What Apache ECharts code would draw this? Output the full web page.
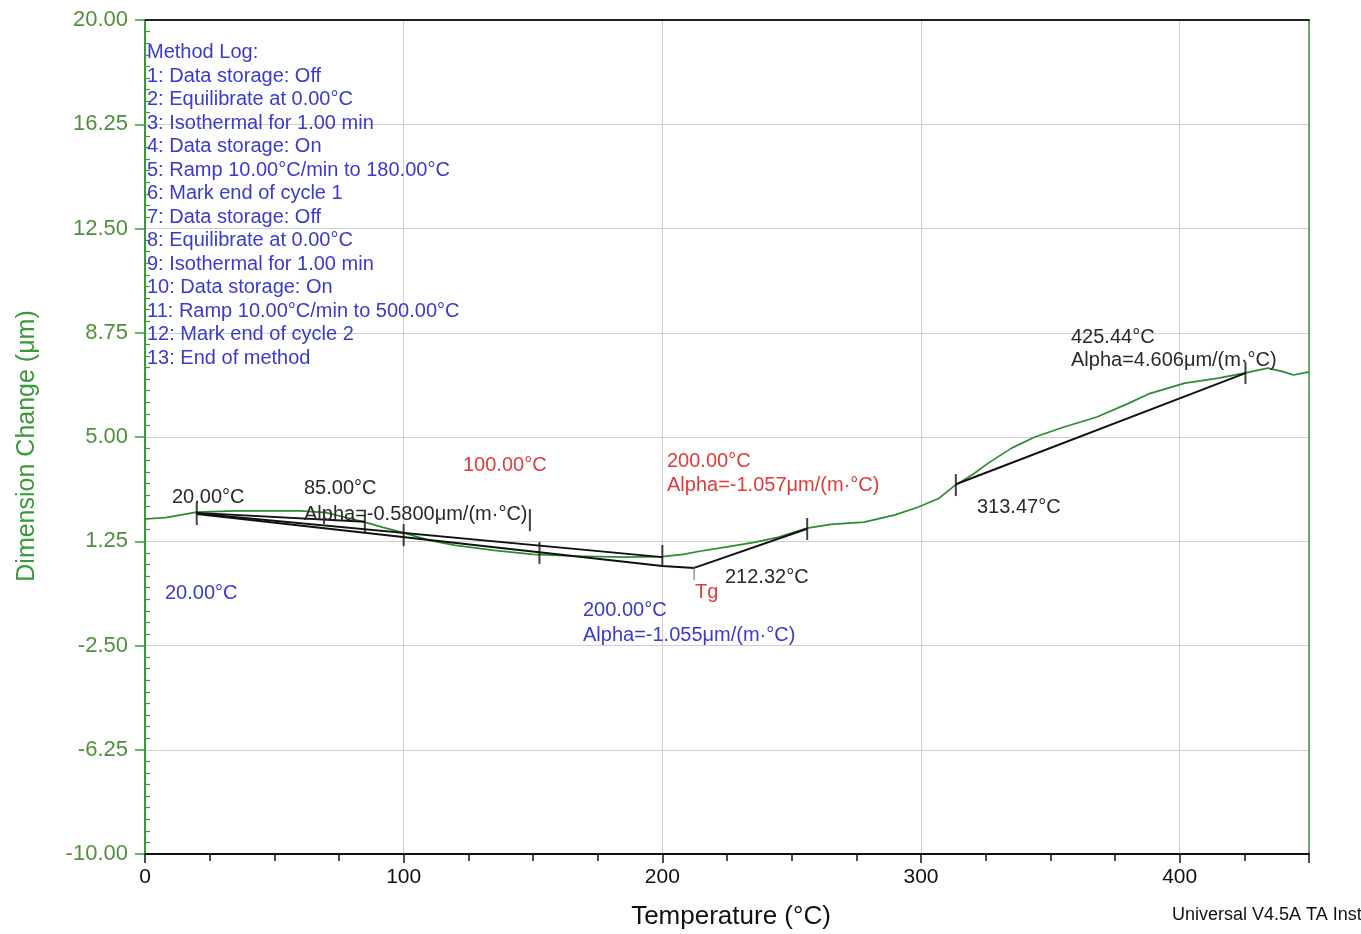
<!DOCTYPE html>
<html><head><meta charset="utf-8">
<script src="https://cdn.jsdelivr.net/npm/echarts@6/dist/echarts.min.js"></script>
<style>html,body{margin:0;padding:0;background:#fff}#c{width:1361px;height:934px}</style>
</head><body><div id="c"></div>
<script>
// ---- data ----
const temperature = [0, 8, 14, 20, 35, 50, 60, 70, 80, 85, 92, 100, 110, 120, 135, 150, 165, 185, 200, 208, 215, 225, 235, 245, 256, 265, 278, 290, 299, 307, 313, 320, 326, 335, 344, 355, 368, 380, 388, 402, 415, 425, 434, 440, 444, 450];
const dimensionChange = [2.05, 2.10, 2.20, 2.30, 2.34, 2.34, 2.34, 2.28, 2.05, 1.94, 1.75, 1.55, 1.28, 1.10, 0.92, 0.78, 0.72, 0.68, 0.70, 0.78, 0.90, 1.05, 1.20, 1.40, 1.72, 1.86, 1.94, 2.20, 2.48, 2.80, 3.25, 3.65, 4.06, 4.60, 5.00, 5.35, 5.72, 6.20, 6.55, 6.94, 7.12, 7.30, 7.48, 7.35, 7.23, 7.34];
const tangentAlpha058 = [[20, 2.27], [85, 1.95]];
const tangentRed = [[20, 2.25], [200, 0.68]];
const tangentBlue = [[20, 2.23], [200, 0.36], [212.32, 0.29]];
const tangentAfterTg = [[212.32, 0.29], [256, 1.70]];
const tangentAlpha4606 = [[313.47, 3.30], [425.44, 7.30]];
const cursorMarks = [[20, 2.23], [85, 1.94], [100, 1.47], [148.8, 2.01], [152.5, 0.83], [200, 0.72], [256, 1.69], [313.47, 3.27], [425.44, 7.30]];
const tgMark = [[212.32, 0.11]];
const xTickValues = [0, 100, 200, 300, 400];
const yTickLabels = ['-10.00', '-6.25', '-2.50', '1.25', '5.00', '8.75', '12.50', '16.25', '20.00'];
const methodLog = ['Method Log:', '1: Data storage: Off', '2: Equilibrate at 0.00°C', '3: Isothermal for 1.00 min', '4: Data storage: On', '5: Ramp 10.00°C/min to 180.00°C', '6: Mark end of cycle 1', '7: Data storage: Off', '8: Equilibrate at 0.00°C', '9: Isothermal for 1.00 min', '10: Data storage: On', '11: Ramp 10.00°C/min to 500.00°C', '12: Mark end of cycle 2', '13: End of method'];
const blackNotes = ['20.00°C', '85.00°C', 'Alpha=-0.5800μm/(m·°C)', '212.32°C', '313.47°C', '425.44°C', 'Alpha=4.606μm/(m·°C)'];
const redNotes = ['100.00°C', '200.00°C', 'Alpha=-1.057μm/(m·°C)', 'Tg'];
const blueNotes = ['20.00°C', '200.00°C', 'Alpha=-1.055μm/(m·°C)'];

// ---- styles ----
const FONT = '"Liberation Sans", Arial, sans-serif';
const GREEN = '#2f8a2f';
const AXIS_GREEN = '#3f963f';
const LABEL_GREEN = '#4f8f3f';
const BLUE = '#3a3acc';
const RED = '#e03a3a';
const BLACK = '#2a2a2a';

const chart = echarts.init(document.getElementById('c'), null, {renderer: 'canvas'});

function note(text, x, y, color) {
  return {type: 'text', x: x, y: y, silent: true, z: 50,
    style: {text: text, fill: color, fontSize: 20, fontFamily: FONT, align: 'left', verticalAlign: 'middle'}};
}
function seg(data, color, w) {
  return {type: 'line', data: data, showSymbol: false, symbol: 'none', silent: true,
    lineStyle: {color: color || '#111', width: w || 1.9}, z: 4, animation: false};
}

const option = {
  animation: false,
  backgroundColor: '#fff',
  grid: {left: 145, right: 52, top: 20, bottom: 80, containLabel: false},
  xAxis: [{
    type: 'value', min: 0, max: 450, interval: 100, position: 'bottom',
    axisLine: {show: true, onZero: false, lineStyle: {color: '#111', width: 2}},
    axisTick: {show: true, length: 9, lineStyle: {color: '#111', width: 1.5}},
    minorTick: {show: true, splitNumber: 4, length: 7, lineStyle: {color: '#111', width: 1.5}},
    axisLabel: {color: '#111', fontSize: 21, fontFamily: FONT, margin: 13,
      formatter: v => xTickValues.indexOf(v) >= 0 ? String(v) : ''},
    splitLine: {show: true, lineStyle: {color: '#cfcfcf', width: 1}}
  }, {
    type: 'value', min: 0, max: 450, position: 'top',
    axisLine: {show: true, onZero: false, lineStyle: {color: '#222', width: 2}},
    axisTick: {show: false}, axisLabel: {show: false}, splitLine: {show: false}
  }],
  yAxis: [{
    type: 'value', min: -10, max: 20, interval: 3.75, position: 'left',
    axisLine: {show: true, onZero: false, lineStyle: {color: AXIS_GREEN, width: 2}},
    axisTick: {show: true, length: 10, lineStyle: {color: AXIS_GREEN, width: 1.5}},
    axisLabel: {color: LABEL_GREEN, fontSize: 22, fontFamily: FONT, margin: 17,
      formatter: v => { const s = v.toFixed(2); return yTickLabels.indexOf(s) >= 0 ? s : ''; }},
    splitLine: {show: true, lineStyle: {color: '#cfcfcf', width: 1}}
  }, {
    type: 'value', min: -10, max: 20, interval: 3.75, position: 'left',
    axisLine: {show: false}, axisLabel: {show: false}, splitLine: {show: false},
    axisTick: {show: false, inside: true},
    minorTick: {show: true, splitNumber: 9, length: 5, lineStyle: {color: AXIS_GREEN, width: 1.2}}
  }, {
    type: 'value', min: -10, max: 20, position: 'right',
    axisLine: {show: true, onZero: false, lineStyle: {color: AXIS_GREEN, width: 1.5}},
    axisTick: {show: false}, axisLabel: {show: false}, splitLine: {show: false}
  }],
  series: [
    {type: 'line', data: temperature.map((t, i) => [t, dimensionChange[i]]), showSymbol: false, symbol: 'none',
      silent: true, lineStyle: {color: GREEN, width: 1.7}, z: 3, animation: false},
    seg(tangentAlpha058), seg(tangentRed), seg(tangentBlue), seg(tangentAfterTg), seg(tangentAlpha4606),
    {type: 'scatter', data: cursorMarks, symbol: 'rect', symbolSize: [2, 22], silent: true,
      itemStyle: {color: '#111'}, z: 6, animation: false},
    {type: 'scatter', data: tgMark, symbol: 'rect', symbolSize: [1.5, 14], silent: true,
      itemStyle: {color: '#777'}, z: 6, animation: false}
  ],
  graphic: [
    {type: 'text', x: 147, y: 41, silent: true, z: 50,
      style: {text: methodLog.join('\n'), fill: BLUE, fontSize: 20, lineHeight: 23.5, fontFamily: FONT, align: 'left', verticalAlign: 'top'}},
    note(blackNotes[0], 172, 497, BLACK),
    note(blackNotes[1], 304, 488, BLACK),
    note(blackNotes[2], 304, 514, BLACK),
    note(blackNotes[3], 725, 577, BLACK),
    note(blackNotes[4], 977, 507, BLACK),
    note(blackNotes[5], 1071, 337, BLACK),
    note(blackNotes[6], 1071, 360, BLACK),
    note(redNotes[0], 463, 465, RED),
    note(redNotes[1], 667, 461, RED),
    note(redNotes[2], 667, 485, RED),
    note(redNotes[3], 695, 592, RED),
    note(blueNotes[0], 165, 593, BLUE),
    note(blueNotes[1], 583, 610, BLUE),
    note(blueNotes[2], 583, 635, BLUE),
    {type: 'text', x: 27, y: 446, rotation: Math.PI / 2, silent: true,
      style: {text: 'Dimension Change (μm)', fill: '#3a9a3a', fontSize: 25, fontFamily: FONT, align: 'center', verticalAlign: 'middle'}},
    {type: 'text', x: 731, y: 917, silent: true,
      style: {text: 'Temperature (°C)', fill: '#111', fontSize: 26, fontFamily: FONT, align: 'center', verticalAlign: 'middle'}},
    {type: 'text', x: 1172, y: 915, silent: true,
      style: {text: 'Universal V4.5A TA Instruments', fill: '#111', fontSize: 18, fontFamily: FONT, align: 'left', verticalAlign: 'middle'}}
  ]
};
chart.setOption(option);
</script>
</body></html>
